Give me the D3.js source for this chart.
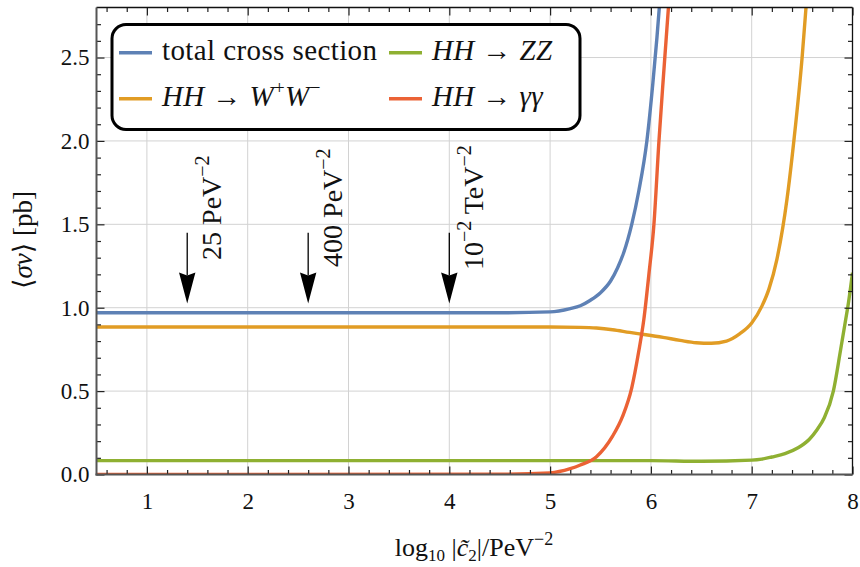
<!doctype html>
<html lang="en">
<head>
<meta charset="UTF-8">
<title>HH cross section</title>
<script src="https://d3js.org/d3.v7.min.js"></script>
<style>
  body { margin: 0; background: #fff; }
  svg text { font-family: "Liberation Serif", "DejaVu Serif", serif; fill: #111; }
</style>
</head>
<body>
<div id="chart"></div>
<script>
  // Data
  const totalPts = [[0.5,0.97],[4.5,0.97],[5.0,0.975],[5.2,0.995],[5.3,1.012],[5.4,1.045],[5.5,1.09],[5.6,1.16],
    [5.67,1.24],[5.73,1.33],[5.81,1.5],[5.88,1.7],[5.96,2.0],[6.02,2.35],[6.06,2.62],[6.09,2.85],[6.12,3.1]];
  const wwPts = [[0.5,0.884],[5.0,0.884],[5.3,0.882],[5.46,0.878],[5.62,0.868],[5.79,0.852],[5.95,0.838],
    [6.12,0.822],[6.29,0.804],[6.45,0.79],[6.6,0.787],[6.75,0.8],[6.88,0.843],[7.0,0.908],[7.1,1.008],
    [7.17,1.11],[7.25,1.29],[7.35,1.65],[7.42,2.01],[7.5,2.5],[7.54,2.81],[7.57,3.05]];
  const zzPts = [[0.5,0.083],[6.0,0.083],[6.5,0.079],[7.0,0.086],[7.1,0.092],[7.2,0.105],[7.33,0.125],
    [7.46,0.16],[7.57,0.21],[7.65,0.27],[7.72,0.34],[7.81,0.5],[7.88,0.74],[7.93,0.92],[7.96,1.03],[8.0,1.21]];
  const aaPts = [[0.5,0.0],[4.5,0.002],[5.0,0.01],[5.2,0.035],[5.3,0.057],[5.46,0.107],[5.62,0.23],
    [5.72,0.35],[5.81,0.52],[5.88,0.74],[5.93,0.93],[5.98,1.2],[6.03,1.5],[6.08,2.0],[6.12,2.35],
    [6.15,2.6],[6.18,2.85],[6.2,3.0]];

  const xTicks = [1, 2, 3, 4, 5, 6, 7, 8];
  const yTicks = [0, 0.5, 1.0, 1.5, 2.0, 2.5];

  const arrowX = [1.4, 2.6, 4.0];
  const arrowTop = 1.45;
  const arrowTip = 1.025;
  const arrowLabels = [
    [["25 PeV", 0], ["−2", 1]],
    [["400 PeV", 0], ["−2", 1]],
    [["10", 0], ["−2", 1], [" TeV", 0], ["−2", 1]]
  ];

  const colors = {
    total: '#5e81b5',
    ww: '#e19c24',
    zz: '#8fb032',
    aa: '#eb6235'
  };

  const serif = '"Liberation Serif", "DejaVu Serif", serif';
  const width = 860, height = 567;
  const plot = { left: 96.5, right: 852.5, top: 7.5, bottom: 474.5 };

  const svg = d3.select('#chart').append('svg')
    .attr('width', width)
    .attr('height', height)
    .attr('font-family', serif);

  const x = d3.scaleLinear().domain([0.5, 8]).range([plot.left, plot.right]);
  const y = d3.scaleLinear().domain([0, 2.8]).range([plot.bottom, plot.top]);

  // grid
  const grid = svg.append('g');
  grid.selectAll('.gx').data(xTicks.slice(0, -1)).join('line')
    .attr('x1', d => x(d)).attr('x2', d => x(d))
    .attr('y1', plot.top).attr('y2', plot.bottom)
    .attr('stroke', '#d2d2d2').attr('stroke-width', 1);
  grid.selectAll('.gy').data(yTicks.slice(1)).join('line')
    .attr('x1', plot.left).attr('x2', plot.right)
    .attr('y1', d => y(d)).attr('y2', d => y(d))
    .attr('stroke', '#d2d2d2').attr('stroke-width', 1);

  svg.append('clipPath').attr('id', 'clip')
    .append('rect')
    .attr('x', plot.left).attr('y', plot.top)
    .attr('width', plot.right - plot.left).attr('height', plot.bottom - plot.top);

  const line = d3.line()
    .x(d => x(d[0]))
    .y(d => y(d[1]))
    .curve(d3.curveMonotoneX);

  const curves = svg.append('g').attr('clip-path', 'url(#clip)');
  [[totalPts, colors.total], [wwPts, colors.ww], [zzPts, colors.zz], [aaPts, colors.aa]].forEach(([pts, c]) => {
    curves.append('path')
      .datum(pts)
      .attr('d', line)
      .attr('fill', 'none')
      .attr('stroke', c)
      .attr('stroke-width', 3.4);
  });

  // arrows
  const arrows = svg.append('g');
  arrowX.forEach((ax, i) => {
    const px = x(ax), y0 = y(arrowTop), y1 = y(arrowTip);
    const headLen = 31, headW = 8.2, notch = 3;
    arrows.append('line')
      .attr('x1', px).attr('x2', px)
      .attr('y1', y0).attr('y2', y1 - headLen + notch)
      .attr('stroke', '#000').attr('stroke-width', 1.3);
    arrows.append('path')
      .attr('d', `M${px},${y1} L${px - headW},${y1 - headLen} L${px},${y1 - headLen + notch} L${px + headW},${y1 - headLen} Z`)
      .attr('fill', '#000');

    const tx = x(ax + 0.337), ty = y(1.6);
    const t = arrows.append('text')
      .attr('transform', `translate(${tx},${ty}) rotate(-90)`)
      .attr('text-anchor', 'middle')
      .style('font-size', '28px');
    let raised = false;
    arrowLabels[i].forEach(([s, sup]) => {
      const span = t.append('tspan').text(s);
      if (sup && !raised) { span.attr('dy', '-12px').style('font-size', '20px'); raised = true; }
      else if (sup) { span.style('font-size', '20px'); }
      else if (!sup && raised) { span.attr('dy', '12px'); raised = false; }
    });
  });

  // legend
  const legend = svg.append('g');
  legend.append('rect')
    .attr('x', 112).attr('y', 24.5)
    .attr('width', 468).attr('height', 105)
    .attr('rx', 14)
    .attr('fill', '#fff')
    .attr('stroke', '#000')
    .attr('stroke-width', 3);

  const legendItems = [
    { color: colors.total, lx: 119, ly: 52.7, parts: [['total cross section', 'n', 0]] },
    { color: colors.ww, lx: 119, ly: 98.7, parts: [['HH', 'i', 0], [' → ', 'n', 0], ['W', 'i', 0], ['+', 'n', 1], ['W', 'i', -1], ['−', 'n', 1]] },
    { color: colors.zz, lx: 389, ly: 52.7, parts: [['HH', 'i', 0], [' → ', 'n', 0], ['ZZ', 'i', 0]] },
    { color: colors.aa, lx: 389, ly: 98.7, parts: [['HH', 'i', 0], [' → ', 'n', 0], ['γγ', 'i', 0]] }
  ];
  legendItems.forEach(item => {
    legend.append('line')
      .attr('x1', item.lx).attr('x2', item.lx + 33)
      .attr('y1', item.ly).attr('y2', item.ly)
      .attr('stroke', item.color).attr('stroke-width', 3.4);
    const t = legend.append('text')
      .attr('x', item.lx + 43).attr('y', item.ly + 7.5)
      .style('font-size', '29px')
      .style('letter-spacing', '0.4px');
    item.parts.forEach(([s, st, sh]) => {
      const span = t.append('tspan').text(s);
      if (st === 'i') span.style('font-style', 'italic');
      if (sh === 1) span.attr('dy', '-12px').style('font-size', '19px');
      if (sh === -1) span.attr('dy', '12px');
    });
  });

  // axes
  const xMinorVals = d3.range(0.6, 8, 0.2).filter(v => Math.abs(v - Math.round(v)) > 0.01);
  const yMinorVals = d3.range(0.1, 2.8, 0.1).filter(v => Math.abs(v * 2 - Math.round(v * 2)) > 0.01);

  const xAxisB = svg.append('g').attr('transform', `translate(0,${plot.bottom})`)
    .call(d3.axisBottom(x).tickValues(xTicks).tickSize(-8).tickPadding(18).tickFormat(d3.format('d')));
  const xMinorB = svg.append('g').attr('transform', `translate(0,${plot.bottom})`)
    .call(d3.axisBottom(x).tickValues(xMinorVals).tickSize(-4.5).tickFormat(''));
  const xAxisT = svg.append('g').attr('transform', `translate(0,${plot.top})`)
    .call(d3.axisTop(x).tickValues(xTicks).tickSize(-8).tickFormat(''));
  const xMinorT = svg.append('g').attr('transform', `translate(0,${plot.top})`)
    .call(d3.axisTop(x).tickValues(xMinorVals).tickSize(-4.5).tickFormat(''));

  const yAxisL = svg.append('g').attr('transform', `translate(${plot.left},0)`)
    .call(d3.axisLeft(y).tickValues(yTicks).tickSize(-8).tickPadding(7).tickFormat(d3.format('.1f')));
  const yMinorL = svg.append('g').attr('transform', `translate(${plot.left},0)`)
    .call(d3.axisLeft(y).tickValues(yMinorVals).tickSize(-4.5).tickFormat(''));
  const yAxisR = svg.append('g').attr('transform', `translate(${plot.right},0)`)
    .call(d3.axisRight(y).tickValues(yTicks).tickSize(-8).tickFormat(''));
  const yMinorR = svg.append('g').attr('transform', `translate(${plot.right},0)`)
    .call(d3.axisRight(y).tickValues(yMinorVals).tickSize(-4.5).tickFormat(''));

  [xAxisB, xMinorB, xAxisT, xMinorT, yAxisL, yMinorL, yAxisR, yMinorR].forEach(g => {
    g.attr('font-family', serif).attr('font-size', 23);
    g.select('.domain').remove();
    g.selectAll('.tick line').attr('stroke', '#222').attr('stroke-width', 1.2);
    g.selectAll('.tick text').attr('font-family', serif).style('font-size', '23px').attr('fill', '#111');
  });

  // frame
  svg.append('line').attr('x1', plot.left).attr('x2', plot.right).attr('y1', plot.top).attr('y2', plot.top)
    .attr('stroke', '#111').attr('stroke-width', 1.3);
  svg.append('line').attr('x1', plot.right).attr('x2', plot.right).attr('y1', plot.top).attr('y2', plot.bottom)
    .attr('stroke', '#111').attr('stroke-width', 1.3);
  svg.append('line').attr('x1', plot.left).attr('x2', plot.left).attr('y1', plot.top).attr('y2', plot.bottom + 1)
    .attr('stroke', '#555').attr('stroke-width', 2);
  svg.append('line').attr('x1', plot.left - 1).attr('x2', plot.right).attr('y1', plot.bottom).attr('y2', plot.bottom)
    .attr('stroke', '#555').attr('stroke-width', 2);

  // axis titles
  const xt = svg.append('text')
    .attr('x', 474).attr('y', 556)
    .attr('text-anchor', 'middle')
    .style('font-size', '26px');
  xt.append('tspan').text('log');
  xt.append('tspan').text('10').attr('dy', '5px').style('font-size', '17px');
  xt.append('tspan').text(' |').attr('dy', '-5px');
  xt.append('tspan').text('c\u0303').style('font-style', 'italic');
  xt.append('tspan').text('2').attr('dy', '5px').style('font-size', '17px');
  xt.append('tspan').text('|/PeV').attr('dy', '-5px');
  xt.append('tspan').text('−2').attr('dy', '-11px').style('font-size', '18px');

  const yt = svg.append('text')
    .attr('transform', 'translate(31.5,240) rotate(-90)')
    .attr('text-anchor', 'middle')
    .style('font-size', '27px');
  yt.append('tspan').text('\u27E8');
  yt.append('tspan').text('σv').style('font-style', 'italic');
  yt.append('tspan').text('\u27E9  [pb]');
</script>
</body>
</html>
